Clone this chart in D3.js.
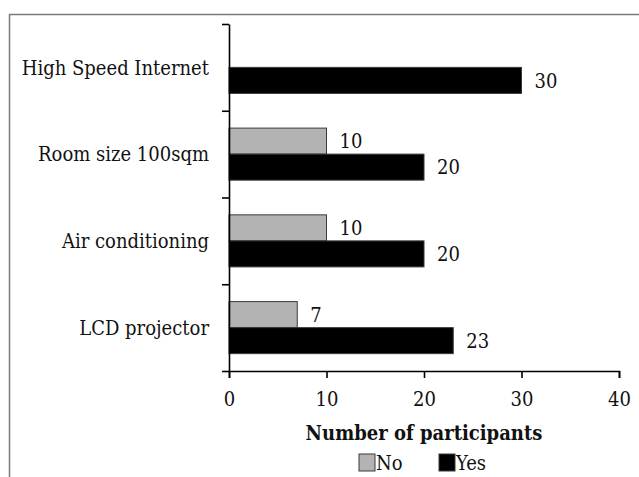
<!DOCTYPE html>
<html>
<head>
<meta charset="utf-8">
<script src="https://cdn.jsdelivr.net/npm/d3@7"></script>
<style>
  html, body { margin: 0; padding: 0; background: #fff; }
  svg { display: block; }
  text { font-family: "DejaVu Serif Condensed", "DejaVu Serif", serif; font-stretch: semi-condensed; fill: #111; }
</style>
</head>
<body>
<svg id="chart" width="639" height="477"></svg>
<script>
// Facilities and how many participants answered No / Yes
const categories = ["High Speed Internet", "Room size 100sqm", "Air conditioning", "LCD projector"];
const seriesNames = ["No", "Yes"];
const noValues  = [0, 10, 10, 7];
const yesValues = [30, 20, 20, 23];
const xTicks = [0, 10, 20, 30, 40];
const xTitle = "Number of participants";

const colors = { No: "#b3b3b3", Yes: "#000000" };
const fontSize = "20px";

const svg = d3.select("#chart");

// outer frame
svg.append("rect")
  .attr("x", 9.5).attr("y", 14.5)
  .attr("width", 700).attr("height", 500)
  .attr("fill", "none").attr("stroke", "#7a7a7a").attr("stroke-width", 1.5);

const plotLeft = 229, plotRight = 619, plotTop = 24, plotBottom = 371;

const x = d3.scaleLinear().domain([0, 40]).range([plotLeft, plotRight]);
const y = d3.scaleBand().domain(categories).range([plotTop, plotBottom]).padding(0);
const inner = d3.scaleBand().domain(seriesNames)
  .range([y.bandwidth() * 0.2, y.bandwidth() * 0.8]).padding(0);

const rows = categories.map((c, i) => ({ cat: c, No: noValues[i], Yes: yesValues[i] }));

// bars
const groups = svg.append("g").selectAll("g").data(rows).join("g")
  .attr("transform", d => `translate(0,${y(d.cat)})`);

groups.selectAll("rect")
  .data(d => seriesNames.filter(s => d[s] > 0).map(s => ({ s, v: d[s] })))
  .join("rect")
  .attr("x", x(0))
  .attr("y", d => inner(d.s))
  .attr("width", d => x(d.v) - x(0))
  .attr("height", inner.bandwidth())
  .attr("fill", d => colors[d.s])
  .attr("stroke", "#3a3a3a").attr("stroke-width", 1);

// value labels
groups.selectAll("text.val")
  .data(d => seriesNames.filter(s => d[s] > 0).map(s => ({ s, v: d[s] })))
  .join("text").attr("class", "val")
  .attr("x", d => x(d.v) + 13)
  .attr("y", d => inner(d.s) + inner.bandwidth() / 2)
  .attr("dy", "0.36em")
  .style("font-size", fontSize)
  .text(d => d.v);

// x axis
const xAxis = svg.append("g")
  .attr("transform", `translate(0,${plotBottom})`)
  .call(d3.axisBottom(x).tickValues(xTicks).tickSize(7).tickPadding(14).tickFormat(d3.format("d")));
xAxis.select(".domain").attr("stroke", "#000").attr("stroke-width", 1.6);
xAxis.selectAll(".tick line").attr("stroke", "#000").attr("stroke-width", 1.6);
xAxis.selectAll("text").style("font-size", fontSize).attr("fill", "#111")
  .style("font-family", '"DejaVu Serif Condensed", "DejaVu Serif", serif');

// y axis with ticks at category boundaries
const yEdges = d3.scaleLinear().domain([0, categories.length]).range([plotTop, plotBottom]);
const yAxis = svg.append("g")
  .attr("transform", `translate(${plotLeft},0)`)
  .call(d3.axisLeft(yEdges).tickValues(d3.range(categories.length + 1)).tickSize(7).tickSizeOuter(0).tickFormat(""));
yAxis.select(".domain").attr("stroke", "#000").attr("stroke-width", 1.6);
yAxis.selectAll(".tick line").attr("stroke", "#000").attr("stroke-width", 1.6);

// category labels
svg.append("g").selectAll("text").data(categories).join("text")
  .attr("x", 209)
  .attr("y", d => y(d) + y.bandwidth() / 2)
  .attr("dy", "0.36em")
  .attr("text-anchor", "end")
  .style("font-size", fontSize)
  .text(d => d);

// axis title
svg.append("text")
  .attr("x", (plotLeft + plotRight) / 2).attr("y", 440)
  .attr("text-anchor", "middle")
  .style("font-size", fontSize).style("font-weight", "bold")
  .text(xTitle);

// legend
const legend = svg.append("g");
const legendX = [359, 439];
seriesNames.forEach((s, i) => {
  legend.append("rect")
    .attr("x", legendX[i]).attr("y", 454)
    .attr("width", 16).attr("height", 17)
    .attr("fill", colors[s]).attr("stroke", "#3a3a3a").attr("stroke-width", 1);
  legend.append("text")
    .attr("x", legendX[i] + 17).attr("y", 470)
    .style("font-size", fontSize)
    .text(s);
});
</script>
</body>
</html>
